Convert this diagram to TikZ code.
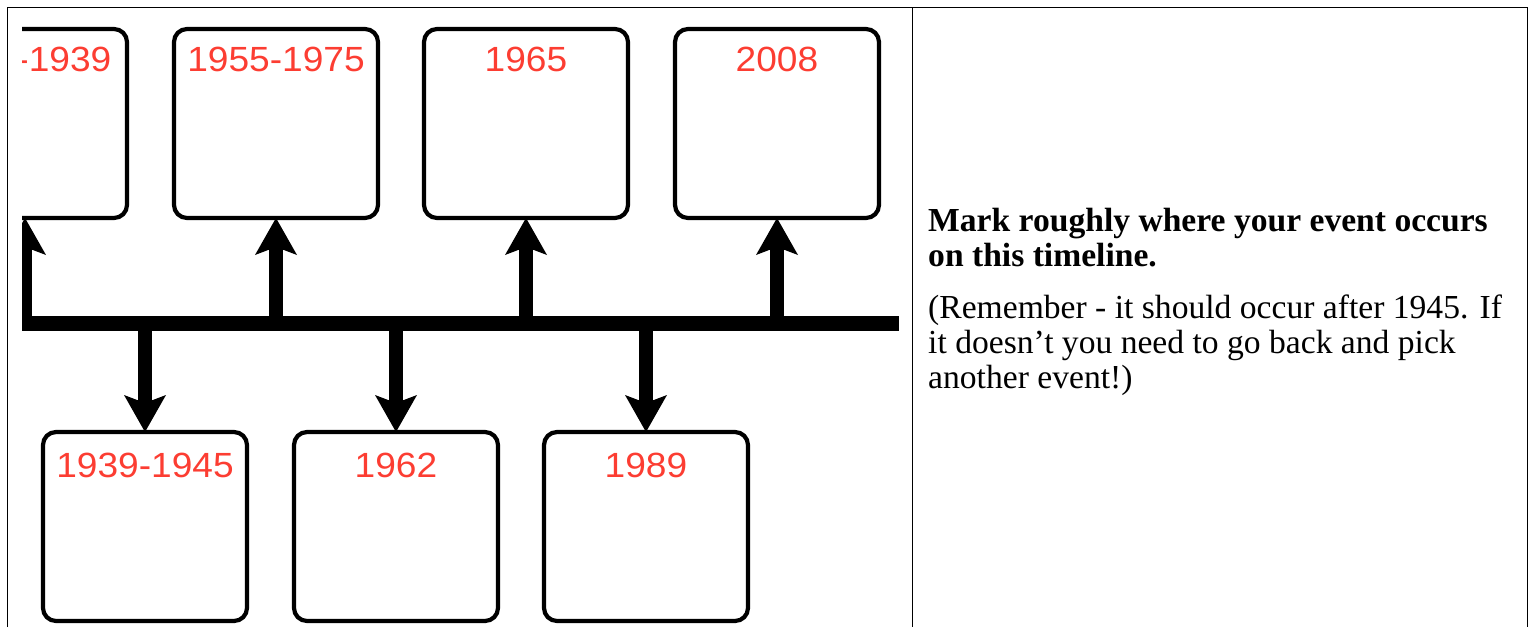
\documentclass[tikz,border=0pt]{standalone}
\usepackage{fontspec}
\setmainfont{Liberation Serif}
\newfontfamily\labfont[FakeStretch=1.06]{Liberation Sans}
\usetikzlibrary{arrows.meta}
\definecolor{labred}{RGB}{252,61,50}
\begin{document}
\begin{tikzpicture}[x=1pt,y=-1pt,
  evbox/.style={draw=black, line width=4.2pt, rounded corners=13pt, minimum width=204pt, minimum height=189pt, inner sep=0pt, outer sep=0pt},
  yearlab/.style={font=\labfont\fontsize{35}{35}\selectfont, text=labred, inner sep=0pt, anchor=base},
  tarrow/.style={line width=14pt, -{Stealth[length=37pt,width=42pt,inset=8pt,line width=0pt]}},
  tabline/.style={line width=1.5pt},
  note/.style={anchor=base west, inner sep=0pt, font=\fontsize{33.6}{35}\selectfont}
]
\useasboundingbox (0,0) rectangle (1529,627);

% table frame
\draw[tabline] (7.5,627) -- (7.5,7.5) -- (1527.5,7.5) -- (1527.5,627);
\draw[tabline] (912.5,7.5) -- (912.5,627);

\begin{scope}
\clip (22,22) rectangle (899,627);
% boxes above
\node[evbox] (b1) at (25,123.5) {};
\node[evbox] (b2) at (276,123.5) {};
\node[evbox] (b3) at (526,123.5) {};
\node[evbox] (b4) at (777,123.5) {};
% boxes below
\node[evbox] (c1) at (145,526.5) {};
\node[evbox] (c2) at (396,526.5) {};
\node[evbox] (c3) at (646,526.5) {};
% labels
\node[yearlab, anchor=base east] (l1) at (111.5,71) {-1939};
\node[yearlab] (l2) at (276,71) {1955-1975};
\node[yearlab] (l3) at (526,71) {1965};
\node[yearlab] (l4) at (777,71) {2008};
\node[yearlab] (m1) at (145,477) {1939-1945};
\node[yearlab] (m2) at (396,477) {1962};
\node[yearlab] (m3) at (646,477) {1989};
% timeline bar
\coordinate (barw) at (22,323.5);
\coordinate (bare) at (899,323.5);
\draw[line width=15pt] (barw) -- (bare);
% arrows
\draw[tarrow] (b1 |- barw) -- (b1.south);
\draw[tarrow] (b2 |- barw) -- (b2.south);
\draw[tarrow] (b3 |- barw) -- (b3.south);
\draw[tarrow] (b4 |- barw) -- (b4.south);
\draw[tarrow] (c1 |- barw) -- (c1.north);
\draw[tarrow] (c2 |- barw) -- (c2.north);
\draw[tarrow] (c3 |- barw) -- (c3.north);
\end{scope}

% note text
\node[note, font=\bfseries\fontsize{33.6}{35}\selectfont] (n1) at (928,231) {Mark roughly where your event occurs};
\node[note, font=\bfseries\fontsize{33.6}{35}\selectfont] (n2) at (928,266) {on this timeline.};
\node[note] (n3) at (928,318) {(Remember - it should occur after 1945. If};
\node[note] (n4) at (928,353) {it doesn’t you need to go back and pick};
\node[note] (n5) at (928,388) {another event!)};
\end{tikzpicture}
\end{document}
